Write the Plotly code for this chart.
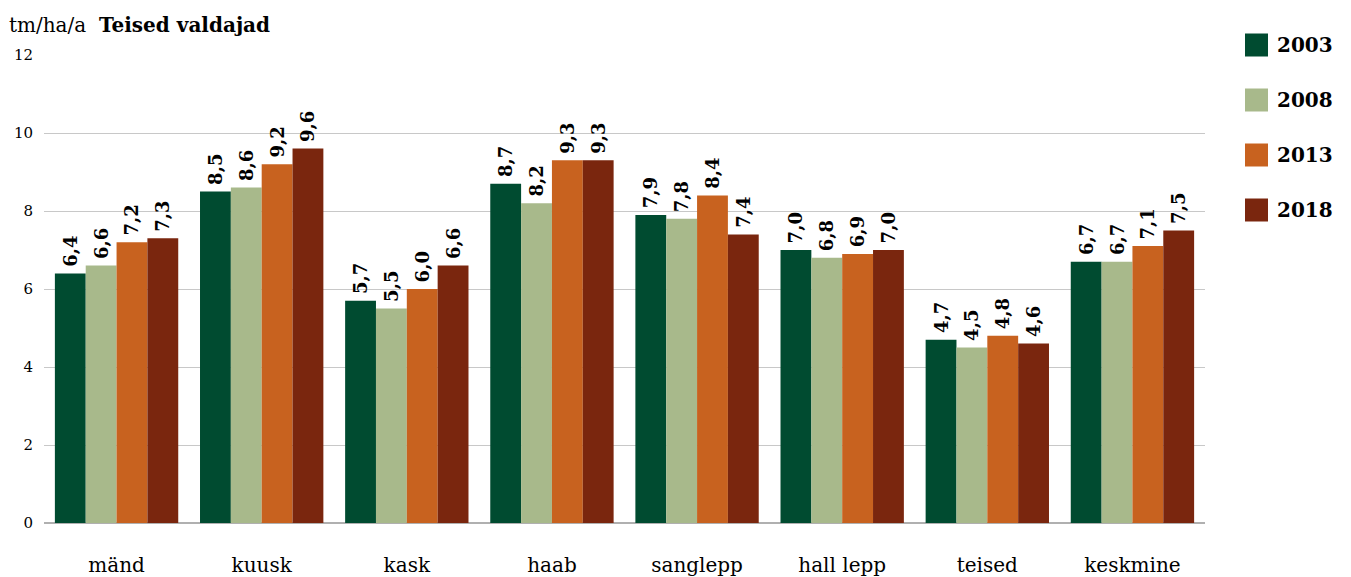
import plotly.graph_objects as go

categories = ["mänd", "kuusk", "kask", "haab", "sanglepp", "hall lepp", "teised", "keskmine"]
years = ["2003", "2008", "2013", "2018"]
v2003 = [6.4, 8.5, 5.7, 8.7, 7.9, 7.0, 4.7, 6.7]
v2008 = [6.6, 8.6, 5.5, 8.2, 7.8, 6.8, 4.5, 6.7]
v2013 = [7.2, 9.2, 6.0, 9.3, 8.4, 6.9, 4.8, 7.1]
v2018 = [7.3, 9.6, 6.6, 9.3, 7.4, 7.0, 4.6, 7.5]
y_ticks = [0, 2, 4, 6, 8, 10, 12]

colors = ["#004B30", "#A8B98B", "#C8621F", "#7A260E"]
series = [v2003, v2008, v2013, v2018]
serif = "DejaVu Serif"

fig = go.Figure()
for year, vals, col in zip(years, series, colors):
    fig.add_trace(go.Bar(
        x=categories, y=vals, name=year,
        marker=dict(color=col, line=dict(width=0)),
        # leading thin space gives a small gap between bar top and rotated label
        text=["\u2009" + f"{v:.1f}".replace(".", ",") for v in vals],
        textposition="outside", textangle=-90, constraintext="none",
        textfont=dict(family=serif, size=18, color="black", weight="bold"),
        cliponaxis=False, showlegend=False,
    ))

# manual legend with large squares (pixel positions converted to paper coords)
for i, (year, col) in enumerate(zip(years, colors)):
    yc = 45 + i * 55
    py = 1 - (yc - 55) / 468
    fig.add_shape(type="rect", xref="paper", yref="paper",
                  x0=(1245 - 44) / 1161, x1=(1268 - 44) / 1161,
                  y0=py - 11.5 / 468, y1=py + 11.5 / 468,
                  fillcolor=col, line=dict(width=0))
    fig.add_annotation(xref="paper", yref="paper", x=(1275 - 44) / 1161, y=py,
                       text=f"<b>{year}</b>", showarrow=False, xanchor="left", yanchor="middle",
                       font=dict(family=serif, size=20, color="black"))

fig.add_annotation(xref="paper", yref="paper", x=-37 / 1161, y=1 + 30 / 468,
                   text="tm/ha/a  <b>Teised valdajad</b>", showarrow=False,
                   xanchor="left", yanchor="middle",
                   font=dict(family=serif, size=20, color="black"))

fig.update_layout(
    width=1351, height=577,
    margin=dict(l=44, r=146, t=55, b=54),
    barmode="group", bargap=0.15, bargroupgap=0,
    plot_bgcolor="white", paper_bgcolor="white",
    font=dict(family=serif, color="black"),
    xaxis=dict(showgrid=False, ticks="", tickfont=dict(size=20), ticklabelstandoff=28,
               automargin=False),
    yaxis=dict(range=[0, 12], tickvals=y_ticks, showgrid=True, gridcolor="#c8c8c8",
               zeroline=True, zerolinecolor="#b0b0b0", tickfont=dict(size=15),
               ticklabelstandoff=10, automargin=False),
)

fig.write_html("out.html", config={"displayModeBar": False},
               post_script="document.body.style.margin='0';")
